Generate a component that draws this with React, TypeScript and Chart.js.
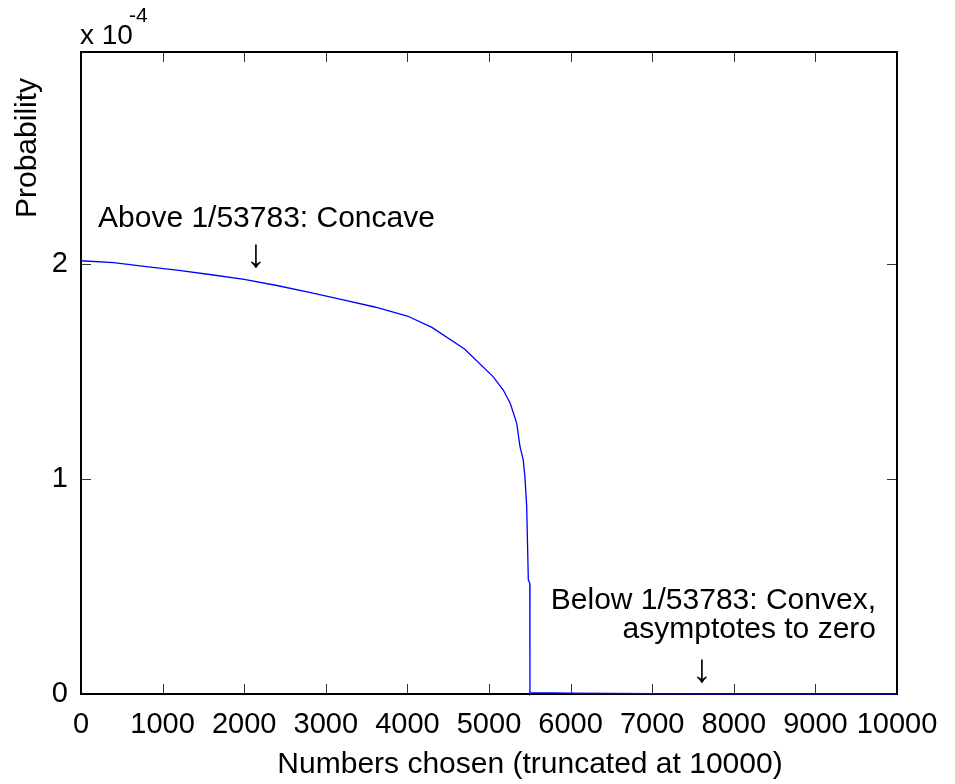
import React, { useEffect, useRef } from "react";
import { Chart, registerables } from "chart.js";

Chart.register(...registerables);

// Numbers chosen (x) and probability in units of 1e-4 (y)
const numbersChosen = [
  0, 400, 800, 1200, 1600, 2000, 2400, 2800, 3200, 3600, 4000, 4300, 4700,
  5050, 5175, 5260, 5340, 5380, 5420, 5440, 5462, 5482, 5500, 5502, 5510,
  6000, 7000, 8000, 9000, 10000,
];
const probability = [
  2.015, 2.006, 1.988, 1.970, 1.950, 1.928, 1.900, 1.868, 1.834, 1.800,
  1.758, 1.705, 1.605, 1.476, 1.414, 1.352, 1.259, 1.150, 1.088, 1.011,
  0.871, 0.530, 0.515, 0.0, 0.006, 0.004, 0.002, 0.001, 0.0005, 0.0003,
];
const yTickValues = [0, 1, 2];
const xTitle = "Numbers chosen (truncated at 10000)";
const yTitle = "Probability";
const exponentBase = "x 10";
const exponentPower = "-4";
const noteAbove = "Above 1/53783: Concave";
const noteBelow1 = "Below 1/53783: Convex,";
const noteBelow2 = "asymptotes to zero";
const arrow = "\u2193";

const FONT = '"Liberation Sans", Arial, sans-serif';

const matlabAxes = {
  id: "matlabAxes",
  beforeDatasetsDraw(chart: any) {
    const { ctx, chartArea: a, scales } = chart;
    const xs = scales.x;
    const ys = scales.y;
    ctx.save();
    // inward ticks
    ctx.strokeStyle = "#333";
    ctx.lineWidth = 1;
    const tl = 10;
    xs.ticks.forEach((t: any) => {
      const px = Math.round(xs.getPixelForValue(t.value)) + 0.5;
      ctx.beginPath();
      ctx.moveTo(px, a.bottom);
      ctx.lineTo(px, a.bottom - tl);
      ctx.moveTo(px, a.top);
      ctx.lineTo(px, a.top + tl);
      ctx.stroke();
    });
    ys.ticks.forEach((t: any) => {
      const py = Math.round(ys.getPixelForValue(t.value)) + 0.5;
      ctx.beginPath();
      ctx.moveTo(a.left, py);
      ctx.lineTo(a.left + tl, py);
      ctx.moveTo(a.right, py);
      ctx.lineTo(a.right - tl, py);
      ctx.stroke();
    });
    // box
    ctx.strokeStyle = "#000";
    ctx.lineWidth = 2;
    ctx.strokeRect(a.left, a.top, a.right - a.left, a.bottom - a.top);
    ctx.restore();
  },
  afterDraw(chart: any) {
    const { ctx } = chart;
    ctx.save();
    ctx.fillStyle = "#000";
    ctx.textBaseline = "alphabetic";
    // exponent
    ctx.font = `28px ${FONT}`;
    ctx.textAlign = "left";
    ctx.fillText(exponentBase, 80, 44);
    ctx.font = `21px ${FONT}`;
    ctx.fillText(exponentPower, 129, 22);
    ctx.font = `30px ${FONT}`;
    // x title
    ctx.textAlign = "center";
    ctx.fillText(xTitle, 530, 773);
    // y title
    ctx.save();
    ctx.translate(36, 218);
    ctx.rotate(-Math.PI / 2);
    ctx.textAlign = "left";
    ctx.fillText(yTitle, 0, 0);
    ctx.restore();
    // annotations
    ctx.textAlign = "left";
    ctx.fillText(noteAbove, 98, 227);
    ctx.textAlign = "right";
    ctx.fillText(noteBelow1, 876, 609);
    ctx.fillText(noteBelow2, 876, 638);
    ctx.font = `40px ${FONT}`;
    ctx.textAlign = "center";
    ctx.fillText(arrow, 256, 267);
    ctx.fillText(arrow, 702, 682);
    ctx.restore();
  },
};

export default function App() {
  const ref = useRef<HTMLCanvasElement | null>(null);
  useEffect(() => {
    const canvas = ref.current;
    if (!canvas) return;
    const chart = new Chart(canvas, {
      type: "line",
      data: {
        datasets: [
          {
            data: numbersChosen.map((x, i) => ({ x, y: probability[i] })),
            borderColor: "#0000ff",
            borderWidth: 1.3,
            pointRadius: 0,
            tension: 0,
            fill: false,
            clip: false as any,
          },
        ],
      },
      options: {
        animation: false,
        responsive: false,
        devicePixelRatio: 1,
        layout: { padding: { top: 52, right: 58, left: 0, bottom: 0 } },
        plugins: { legend: { display: false }, tooltip: { enabled: false } },
        scales: {
          x: {
            type: "linear",
            min: 0,
            max: 10000,
            grid: { display: false },
            border: { display: false },
            ticks: {
              stepSize: 1000,
              autoSkip: false,
              maxRotation: 0,
              padding: 6,
              color: "#000",
              font: { family: FONT, size: 29 },
              callback: (v: any) => String(v),
            },
            afterFit: (s: any) => {
              s.height = 90;
            },
          },
          y: {
            type: "linear",
            min: 0,
            max: 2.986,
            grid: { display: false },
            border: { display: false },
            afterBuildTicks: (s: any) => {
              s.ticks = yTickValues.map((v) => ({ value: v }));
            },
            ticks: {
              padding: 5,
              color: "#000",
              font: { family: FONT, size: 29 },
              callback: (v: any) => String(v),
            },
            afterFit: (s: any) => {
              s.width = 81;
            },
          },
        },
      },
      plugins: [matlabAxes],
    });
    return () => chart.destroy();
  }, []);
  return (
    <div style={{ position: "fixed", left: 0, top: 0, width: 955, height: 784, background: "#fff" }}>
      <canvas ref={ref} width={955} height={784} style={{ width: 955, height: 784, display: "block" }} />
    </div>
  );
}
